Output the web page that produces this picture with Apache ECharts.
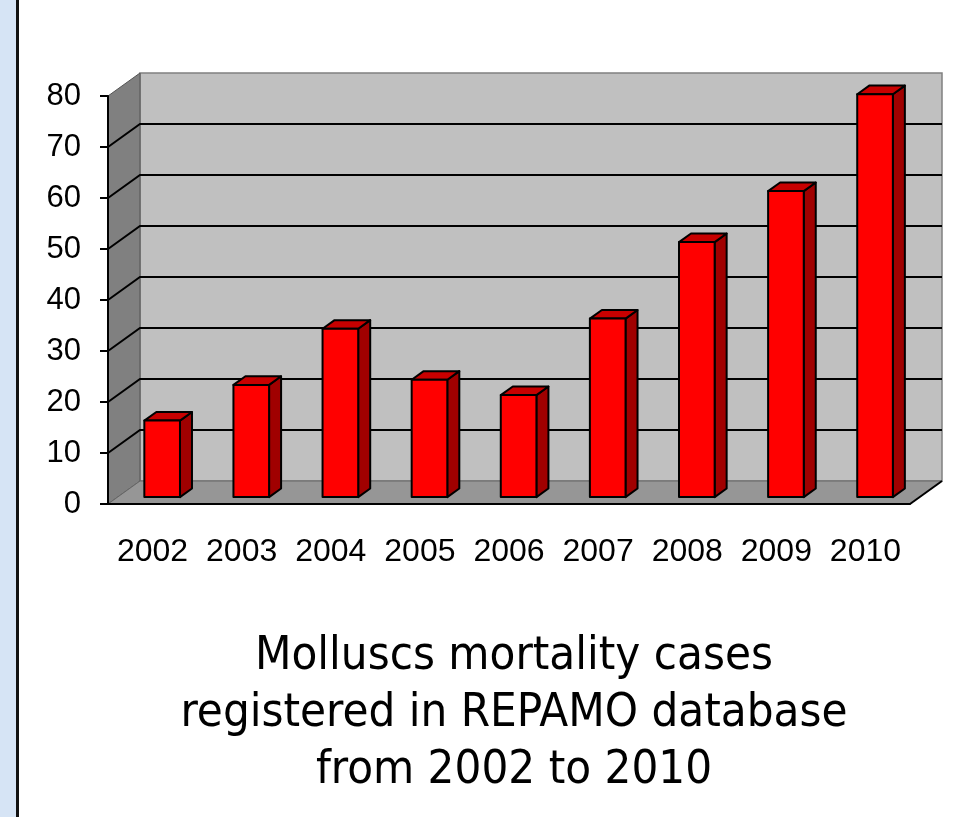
<!DOCTYPE html>
<html lang="en">
<head>
    <meta charset="UTF-8">
    <script src="https://cdn.jsdelivr.net/npm/echarts@6/dist/echarts.min.js"></script>
    <title>Molluscs mortality cases - REPAMO</title>
    <style>
        html, body { margin: 0; padding: 0; background: #fff; }
        #main { width: 954px; height: 817px; }
    </style>
</head>
<body>
<div id="main"></div>
<script>
    // data
    var years = ['2002', '2003', '2004', '2005', '2006', '2007', '2008', '2009', '2010'];
    var cases = [15, 22, 33, 23, 20, 35, 50, 60, 79];
    var yTicks = [0, 10, 20, 30, 40, 50, 60, 70, 80];

    // 3d depth of the box (pixels)
    var DX = 32, DY = -23;

    var myChart = echarts.init(document.getElementById('main'));

    function renderWalls(params, api) {
        var cs = params.coordSys;
        var L = cs.x, R = cs.x + cs.width;
        var B = api.coord([0, yTicks[0]])[1];
        var T = api.coord([0, yTicks[yTicks.length - 1]])[1];
        var kids = [];
        // back wall
        kids.push({
            type: 'polygon',
            shape: {points: [[L + DX, T + DY], [R + DX, T + DY], [R + DX, B + DY], [L + DX, B + DY]]},
            style: {fill: '#c0c0c0', stroke: '#808080', lineWidth: 1.5}
        });
        // side wall
        kids.push({
            type: 'polygon',
            shape: {points: [[L, T], [L + DX, T + DY], [L + DX, B + DY], [L, B]]},
            style: {fill: '#808080', stroke: '#555', lineWidth: 1}
        });
        // floor
        kids.push({
            type: 'polygon',
            shape: {points: [[L, B], [R, B], [R + DX, B + DY], [L + DX, B + DY]]},
            style: {fill: '#969696', stroke: '#666', lineWidth: 1}
        });
        // gridlines
        for (var i = 1; i < yTicks.length - 1; i++) {
            var y = api.coord([0, yTicks[i]])[1];
            kids.push({
                type: 'polyline',
                shape: {points: [[L, y], [L + DX, y + DY], [R + DX, y + DY]]},
                style: {stroke: '#000', lineWidth: 2, fill: null}
            });
        }
        kids.push({
            type: 'line',
            shape: {x1: R, y1: B, x2: R + DX, y2: B + DY},
            style: {stroke: '#000', lineWidth: 2}
        });
        return {type: 'group', children: kids};
    }

    function renderBar(params, api) {
        var top = api.coord([api.value(0), api.value(1)]);
        var base = api.coord([api.value(0), 0]);
        var bw = api.size([1, 0])[0] * 0.4;
        var fx = 0.3 * DX, fy = 0.3 * DY;
        var dx = 0.375 * DX, dy = 0.375 * DY;
        var l = top[0] - bw / 2 + fx, r = l + bw;
        var t = top[1] + fy, b = base[1] + fy;
        var st = {stroke: '#000', lineWidth: 2, lineJoin: 'round'};
        return {
            type: 'group',
            children: [
                {type: 'polygon', shape: {points: [[r, t], [r + dx, t + dy], [r + dx, b + dy], [r, b]]},
                    style: Object.assign({fill: '#a00000'}, st)},
                {type: 'polygon', shape: {points: [[l, t], [l + dx, t + dy], [r + dx, t + dy], [r, t]]},
                    style: Object.assign({fill: '#c80000'}, st)},
                {type: 'rect', shape: {x: l, y: t, width: bw, height: b - t},
                    style: Object.assign({fill: '#ff0000'}, st)}
            ]
        };
    }

    var option = {
        animation: false,
        backgroundColor: '#ffffff',
        grid: {left: 108, right: 44, top: 96, bottom: 313},
        xAxis: {
            type: 'category',
            data: years,
            z: 10,
            axisLine: {lineStyle: {color: '#000', width: 2}},
            axisTick: {length: 10, lineStyle: {color: '#000', width: 2}},
            axisLabel: {color: '#000', fontSize: 32, fontFamily: 'Liberation Sans', margin: 32, interval: 0}
        },
        yAxis: {
            type: 'value',
            min: 0,
            max: 80,
            interval: 10,
            z: 10,
            splitLine: {show: false},
            axisLine: {show: true, lineStyle: {color: '#000', width: 2}},
            axisTick: {show: true, length: 8, lineStyle: {color: '#000', width: 2}},
            axisLabel: {color: '#000', fontSize: 31, fontFamily: 'Liberation Sans', margin: 27}
        },
        graphic: [
            {type: 'rect', left: 0, top: 0, shape: {width: 16, height: 817}, style: {fill: '#d6e4f5'}},
            {type: 'line', shape: {x1: 17.5, y1: 0, x2: 17.5, y2: 817}, style: {stroke: '#111', lineWidth: 3}},
            {
                type: 'text',
                x: 514,
                y: 628,
                style: {
                    text: 'Molluscs mortality cases\nregistered in REPAMO database\nfrom 2002 to 2010',
                    fill: '#000',
                    fontSize: 47,
                    lineHeight: 57,
                    fontFamily: "'DejaVu Sans Condensed', 'DejaVu Sans'",
                    textAlign: 'center'
                }
            }
        ],
        series: [
            {
                type: 'custom',
                z: 1,
                renderItem: renderWalls,
                data: [[0, 0]],
                silent: true
            },
            {
                type: 'custom',
                z: 3,
                renderItem: renderBar,
                encode: {x: 0, y: 1},
                data: cases.map(function (v, i) { return [i, v]; })
            }
        ]
    };

    myChart.setOption(option);
</script>
</body>
</html>
